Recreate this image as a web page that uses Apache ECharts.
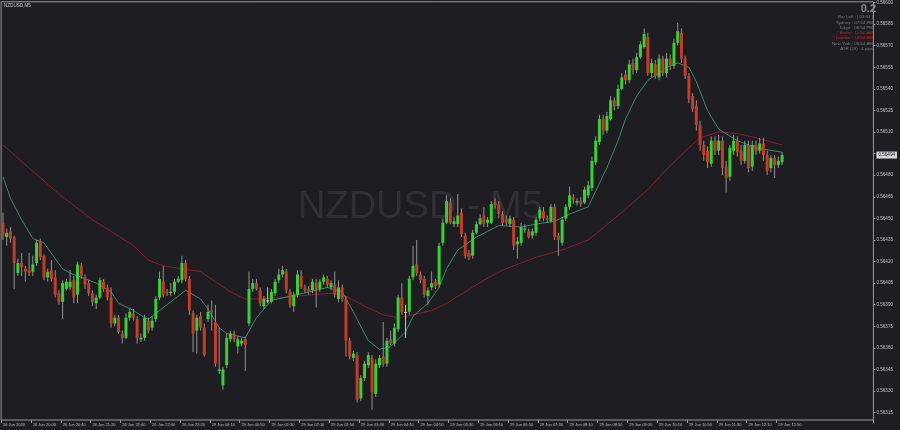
<!DOCTYPE html>
<html><head><meta charset="utf-8">
<script src="https://cdn.jsdelivr.net/npm/echarts@6/dist/echarts.min.js"></script>
<style>html,body{margin:0;padding:0;background:#1d1d22;}#c{width:900px;height:430px;}</style>
</head><body><div id="c"></div>
<script>
const symbolTitle = 'NZDUSD,M5';
const watermark = 'NZDUSD - M5';
const tickLabels = ['26 Jun 2020','26 Jun 20:00','26 Jun 20:40','26 Jun 21:20','26 Jun 22:00','26 Jun 22:40','26 Jun 23:20',
 '29 Jun 00:10','29 Jun 00:50','29 Jun 01:30','29 Jun 02:10','29 Jun 02:50','29 Jun 03:30','29 Jun 04:10','29 Jun 04:50',
 '29 Jun 05:30','29 Jun 06:10','29 Jun 06:50','29 Jun 07:30','29 Jun 08:10','29 Jun 08:50','29 Jun 09:30','29 Jun 10:10',
 '29 Jun 10:50','29 Jun 11:30','29 Jun 12:10','29 Jun 12:50'];
const yTicks = [0.56600,0.56585,0.56570,0.56555,0.56540,0.56525,0.56510,0.56495,0.56480,0.56465,0.56450,0.56435,
 0.56420,0.56405,0.56390,0.56375,0.56360,0.56345,0.56330,0.56315];
const infoLines = [
 {t:'Bar Left : [ 03:01 ]', red:false},
 {t:'Sydney : 07:54 PM', red:false},
 {t:'Tokyo : 06:54 PM', red:false},
 {t:'* Berlin : 11:54 AM', red:true},
 {t:'* London : 10:54 AM', red:true},
 {t:'New York : 05:54 AM', red:false},
 {t:'ATR (20) : 4 pips', red:false}
];
const spreadText = '0.2';

const open = [
0.56447,0.56437,0.56441,0.56437,0.56412,0.56419,0.56415,0.56414,0.56413,0.56419,
0.56434,0.56424,0.56409,0.56414,0.56409,0.56398,0.56392,0.56401,0.56402,0.56407,
0.56397,0.56417,0.56409,0.56405,0.56398,0.56391,0.56395,0.56406,0.56402,0.56395,
0.56377,0.56381,0.56370,0.56367,0.56381,0.56384,0.56380,0.56366,0.56367,0.56379,
0.56374,0.56380,0.56395,0.56406,0.56399,0.56398,0.56399,0.56406,0.56407,0.56419,
0.56408,0.56384,0.56372,0.56382,0.56374,0.56380,0.56386,0.56378,0.56344,0.56334,
0.56348,0.56366,0.56370,0.56361,0.56363,0.56366,0.56377,0.56401,0.56405,0.56400,
0.56389,0.56393,0.56392,0.56398,0.56407,0.56411,0.56413,0.56399,0.56389,0.56397,
0.56410,0.56402,0.56401,0.56400,0.56405,0.56401,0.56406,0.56408,0.56402,0.56404,
0.56394,0.56402,0.56394,0.56365,0.56353,0.56355,0.56325,0.56339,0.56348,0.56353,
0.56328,0.56348,0.56354,0.56349,0.56366,0.56363,0.56373,0.56395,0.56385,0.56385,
0.56409,0.56418,0.56411,0.56408,0.56396,0.56402,0.56406,0.56404,0.56433,0.56447,
0.56461,0.56446,0.56446,0.56454,0.56438,0.56426,0.56424,0.56440,0.56446,0.56452,
0.56447,0.56447,0.56461,0.56460,0.56453,0.56450,0.56446,0.56449,0.56432,0.56433,
0.56442,0.56441,0.56438,0.56440,0.56450,0.56455,0.56450,0.56448,0.56458,0.56438,
0.56433,0.56450,0.56458,0.56465,0.56461,0.56462,0.56461,0.56466,0.56471,0.56489,
0.56503,0.56519,0.56511,0.56519,0.56532,0.56528,0.56540,0.56550,0.56546,0.56558,
0.56553,0.56562,0.56569,0.56576,0.56551,0.56557,0.56548,0.56561,0.56551,0.56561,
0.56556,0.56572,0.56579,0.56561,0.56549,0.56535,0.56528,0.56515,0.56501,0.56497,
0.56488,0.56504,0.56497,0.56504,0.56486,0.56479,0.56497,0.56504,0.56497,0.56490,
0.56501,0.56486,0.56501,0.56497,0.56502,0.56494,0.56485,0.56492,0.56487,0.56489];
const high = [
0.56454,0.56443,0.56444,0.56438,0.56422,0.56426,0.56417,0.56426,0.56424,0.56435,
0.56436,0.56425,0.56415,0.56421,0.56414,0.56400,0.56407,0.56408,0.56414,0.56410,
0.56420,0.56419,0.56411,0.56407,0.56400,0.56397,0.56409,0.56408,0.56404,0.56402,
0.56383,0.56383,0.56372,0.56384,0.56388,0.56387,0.56382,0.56370,0.56383,0.56381,
0.56382,0.56396,0.56413,0.56417,0.56401,0.56405,0.56408,0.56410,0.56424,0.56421,
0.56410,0.56386,0.56383,0.56385,0.56377,0.56390,0.56393,0.56390,0.56374,0.56347,
0.56370,0.56372,0.56372,0.56368,0.56367,0.56368,0.56413,0.56408,0.56408,0.56402,
0.56396,0.56402,0.56401,0.56408,0.56415,0.56417,0.56415,0.56401,0.56399,0.56414,
0.56414,0.56404,0.56403,0.56408,0.56408,0.56408,0.56411,0.56410,0.56407,0.56413,
0.56407,0.56404,0.56396,0.56367,0.56358,0.56357,0.56341,0.56351,0.56357,0.56355,
0.56352,0.56355,0.56378,0.56367,0.56372,0.56377,0.56397,0.56405,0.56390,0.56410,
0.56431,0.56435,0.56413,0.56410,0.56402,0.56413,0.56408,0.56433,0.56450,0.56466,
0.56464,0.56451,0.56467,0.56457,0.56440,0.56428,0.56442,0.56448,0.56453,0.56458,
0.56451,0.56462,0.56464,0.56462,0.56455,0.56452,0.56452,0.56451,0.56437,0.56447,
0.56446,0.56443,0.56443,0.56451,0.56458,0.56458,0.56452,0.56460,0.56460,0.56440,
0.56451,0.56460,0.56472,0.56467,0.56464,0.56465,0.56472,0.56476,0.56493,0.56507,
0.56522,0.56522,0.56524,0.56535,0.56534,0.56543,0.56551,0.56553,0.56560,0.56561,
0.56565,0.56573,0.56582,0.56579,0.56561,0.56560,0.56564,0.56563,0.56565,0.56564,
0.56575,0.56586,0.56582,0.56563,0.56551,0.56537,0.56532,0.56518,0.56504,0.56500,
0.56507,0.56507,0.56508,0.56507,0.56490,0.56501,0.56508,0.56507,0.56501,0.56504,
0.56504,0.56504,0.56504,0.56506,0.56506,0.56497,0.56494,0.56494,0.56493,0.56496];
const low = [
0.56435,0.56431,0.56433,0.56401,0.56410,0.56410,0.56406,0.56410,0.56410,0.56417,
0.56421,0.56407,0.56406,0.56406,0.56395,0.56390,0.56380,0.56400,0.56400,0.56391,
0.56391,0.56408,0.56401,0.56396,0.56389,0.56387,0.56394,0.56399,0.56393,0.56374,
0.56375,0.56370,0.56363,0.56366,0.56379,0.56379,0.56363,0.56364,0.56365,0.56370,
0.56372,0.56378,0.56393,0.56395,0.56396,0.56396,0.56397,0.56405,0.56405,0.56406,
0.56383,0.56357,0.56356,0.56372,0.56354,0.56378,0.56372,0.56347,0.56342,0.56331,
0.56346,0.56364,0.56364,0.56356,0.56361,0.56344,0.56375,0.56399,0.56400,0.56389,
0.56387,0.56391,0.56391,0.56396,0.56405,0.56409,0.56398,0.56388,0.56385,0.56395,
0.56401,0.56398,0.56397,0.56398,0.56388,0.56399,0.56404,0.56402,0.56400,0.56395,
0.56392,0.56392,0.56354,0.56352,0.56351,0.56322,0.56323,0.56337,0.56346,0.56317,
0.56326,0.56346,0.56347,0.56347,0.56362,0.56361,0.56371,0.56383,0.56367,0.56383,
0.56407,0.56410,0.56405,0.56395,0.56390,0.56400,0.56401,0.56402,0.56431,0.56446,
0.56446,0.56444,0.56444,0.56437,0.56422,0.56421,0.56422,0.56439,0.56445,0.56444,
0.56444,0.56446,0.56457,0.56450,0.56445,0.56445,0.56444,0.56428,0.56422,0.56431,
0.56440,0.56436,0.56436,0.56438,0.56448,0.56448,0.56447,0.56447,0.56435,0.56424,
0.56431,0.56448,0.56456,0.56460,0.56459,0.56458,0.56460,0.56464,0.56469,0.56487,
0.56501,0.56508,0.56509,0.56518,0.56525,0.56526,0.56539,0.56543,0.56544,0.56550,
0.56551,0.56561,0.56568,0.56549,0.56548,0.56547,0.56546,0.56549,0.56548,0.56553,
0.56554,0.56570,0.56558,0.56547,0.56530,0.56524,0.56511,0.56497,0.56490,0.56485,
0.56486,0.56494,0.56494,0.56480,0.56468,0.56476,0.56494,0.56493,0.56487,0.56488,
0.56482,0.56483,0.56494,0.56495,0.56490,0.56480,0.56482,0.56478,0.56485,0.56487];
const close = [
0.56438,0.56440,0.56436,0.56419,0.56419,0.56416,0.56413,0.56412,0.56418,0.56433,
0.56423,0.56409,0.56413,0.56408,0.56397,0.56392,0.56405,0.56406,0.56406,0.56395,
0.56418,0.56410,0.56404,0.56398,0.56392,0.56395,0.56407,0.56401,0.56395,0.56377,
0.56381,0.56371,0.56367,0.56381,0.56385,0.56381,0.56367,0.56367,0.56381,0.56372,
0.56379,0.56394,0.56408,0.56397,0.56398,0.56399,0.56406,0.56408,0.56419,0.56408,
0.56386,0.56370,0.56381,0.56374,0.56355,0.56385,0.56385,0.56349,0.56345,0.56345,
0.56367,0.56370,0.56366,0.56366,0.56365,0.56362,0.56401,0.56405,0.56401,0.56391,
0.56394,0.56393,0.56399,0.56406,0.56411,0.56414,0.56400,0.56390,0.56397,0.56411,
0.56402,0.56400,0.56399,0.56406,0.56400,0.56406,0.56409,0.56404,0.56405,0.56397,
0.56402,0.56394,0.56365,0.56354,0.56356,0.56324,0.56339,0.56349,0.56355,0.56329,
0.56349,0.56353,0.56349,0.56365,0.56363,0.56374,0.56395,0.56385,0.56385,0.56408,
0.56417,0.56412,0.56407,0.56397,0.56400,0.56405,0.56403,0.56431,0.56447,0.56462,
0.56447,0.56448,0.56452,0.56439,0.56424,0.56423,0.56440,0.56446,0.56450,0.56446,
0.56449,0.56460,0.56459,0.56453,0.56447,0.56447,0.56450,0.56431,0.56434,0.56444,
0.56443,0.56437,0.56441,0.56449,0.56456,0.56450,0.56449,0.56458,0.56437,0.56435,
0.56449,0.56458,0.56466,0.56463,0.56462,0.56460,0.56470,0.56473,0.56490,0.56504,
0.56519,0.56511,0.56521,0.56532,0.56528,0.56540,0.56548,0.56546,0.56557,0.56553,
0.56562,0.56571,0.56578,0.56551,0.56558,0.56549,0.56561,0.56551,0.56561,0.56556,
0.56572,0.56580,0.56561,0.56549,0.56533,0.56526,0.56515,0.56501,0.56494,0.56489,
0.56504,0.56497,0.56504,0.56485,0.56478,0.56499,0.56504,0.56496,0.56490,0.56501,
0.56485,0.56501,0.56497,0.56502,0.56494,0.56483,0.56492,0.56487,0.56490,0.56494];

// moving averages read at sample bars (bar index, price)
const maFastIdx = [0,2,5,8,11,14,16,18,21,25,29,31,35,38,39,42,45,49,53,55,58,60,65,68,72,79,87,91,94,98,101,104,108,110,114,117,119,122,127,133,139,143,148,152,157,159,162,165,167,170,173,176,178,181,184,186,189,192,197,202,209];
const maFastVal = [0.56479,0.56464,0.56449,0.56436,0.56433,0.56422,0.56415,0.56412,0.56409,0.56405,0.56399,0.56391,0.56386,0.56381,0.56380,0.56386,0.56392,0.56400,0.56394,0.56387,0.56374,0.56370,0.56367,0.56381,0.56393,0.56397,0.56402,0.56399,0.56385,0.56365,0.56359,0.56361,0.56371,0.56382,0.56391,0.56402,0.56415,0.56428,0.56437,0.56445,0.56444,0.56446,0.56448,0.56453,0.56458,0.56469,0.56485,0.56504,0.56519,0.56535,0.56546,0.56551,0.56555,0.56558,0.56555,0.56545,0.56525,0.56512,0.56504,0.56499,0.56496];
const maSlowIdx = [0,7,15,24,29,35,39,43,48,53,57,61,65,69,75,79,88,92,97,102,106,110,115,119,129,134,143,150,157,165,173,178,184,187,192,197,202,209];
const maSlowVal = [0.56501,0.56485,0.56467,0.56449,0.56441,0.56431,0.56421,0.56417,0.56415,0.56413,0.56406,0.56399,0.56394,0.56394,0.56395,0.56396,0.56398,0.56396,0.56389,0.56383,0.56381,0.56383,0.56386,0.56391,0.56407,0.56414,0.56423,0.56428,0.56435,0.56452,0.56470,0.56484,0.56499,0.56506,0.56510,0.56509,0.56506,0.56501];

const BG = '#1d1d22', UP = '#32d432', DOWN = '#c63c26', WICK = '#949494', DOJI = '#c8c8c8';
const FONT = 'Liberation Sans, Arial, sans-serif';
const SLOTS = 234, LABEL_STEP = 8;

const slots = Array.from({length: SLOTS}, (_, i) => String(i));
const candles = open.map((o, i) => [i, o, close[i], low[i], high[i]]);
const fast = maFastIdx.map((x, k) => [x, maFastVal[k]]);
const slow = maSlowIdx.map((x, k) => [x, maSlowVal[k]]);
const lastPrice = close[close.length - 1];
const yLabelValues = yTicks.filter(v => Math.abs(v - lastPrice) > 0.00004).concat([lastPrice]);
const showTick = idx => idx % LABEL_STEP === 0 && idx / LABEL_STEP < tickLabels.length;

function renderCandle(params, api) {
  const i = api.value(0), o = api.value(1), c = api.value(2), l = api.value(3), h = api.value(4);
  const po = api.coord([i, o]), pc = api.coord([i, c]);
  const yl = api.coord([i, l])[1], yh = api.coord([i, h])[1];
  const x = po[0], w = 3;
  const col = c > o ? UP : (c < o ? DOWN : DOJI);
  const top = Math.min(po[1], pc[1]);
  const bh = Math.max(1, Math.abs(po[1] - pc[1]));
  return {type: 'group', children: [
    {type: 'line', shape: {x1: x, y1: yh, x2: x, y2: yl}, style: {stroke: c === o ? DOJI : WICK, lineWidth: 1}},
    {type: 'rect', shape: {x: x - w / 2, y: top, width: w, height: bh}, style: {fill: col}}
  ]};
}

const graphics = [
  {type: 'text', left: 298, top: 189, z: 0, silent: true,
   style: {text: watermark, fill: '#2f2f35', font: '38px ' + FONT}},
  {type: 'text', left: 4, top: 3, style: {text: symbolTitle, fill: '#c8c8c8', font: '4.6px ' + FONT}},
  {type: 'text', right: 24, top: 3, style: {text: spreadText, fill: '#8a8a8a', font: 'bold 11px ' + FONT, align: 'right'}}
];
infoLines.forEach((r, k) => graphics.push({type: 'text', right: 27, top: 15 + k * 5.3,
  style: {text: r.t, fill: r.red ? '#e01e1e' : '#7e7e7e', font: '4.4px ' + FONT, align: 'right'}}));

const chart = echarts.init(document.getElementById('c'), null, {renderer: 'canvas'});
chart.setOption({
  backgroundColor: BG,
  animation: false,
  graphic: graphics,
  grid: {left: 1, top: 1, width: 877.5, height: 419, show: true, borderColor: '#9a9a9a', borderWidth: 1, backgroundColor: 'transparent'},
  xAxis: {type: 'category', data: slots, boundaryGap: true,
    axisLine: {show: false},
    axisTick: {show: true, interval: showTick, length: 3, lineStyle: {color: '#9a9a9a'}},
    axisLabel: {interval: showTick, formatter: (v, idx) => tickLabels[idx / LABEL_STEP], align: 'left',
      fontSize: 4, color: '#c0c0c0', margin: 3, fontFamily: FONT},
    splitLine: {show: false}},
  yAxis: {type: 'value', position: 'right', min: 0.563099, max: 0.566005, scale: true,
    axisLine: {show: false}, splitLine: {show: false},
    axisTick: {show: true, customValues: yTicks, length: 2, lineStyle: {color: '#9a9a9a'}},
    axisLabel: {customValues: yLabelValues,
      formatter: v => Math.abs(v - lastPrice) < 1e-9 ? '{p|' + v.toFixed(5) + '}' : v.toFixed(5),
      rich: {p: {backgroundColor: '#d6d6d6', color: '#1d1d22', padding: [1, 2, 1, 2], fontSize: 4.6, fontFamily: FONT}},
      fontSize: 4.6, color: '#c0c0c0', margin: 3, fontFamily: FONT}},
  series: [
    {type: 'line', data: slow, symbol: 'none', smooth: false, z: 2, lineStyle: {color: '#8c1e2c', width: 1}, silent: true},
    {type: 'line', data: fast, symbol: 'none', smooth: false, z: 2, lineStyle: {color: '#3a8a6c', width: 1}, silent: true},
    {type: 'custom', data: candles, renderItem: renderCandle, encode: {x: 0, y: [1, 2, 3, 4]}, z: 3, silent: true}
  ]
});
</script></body></html>
